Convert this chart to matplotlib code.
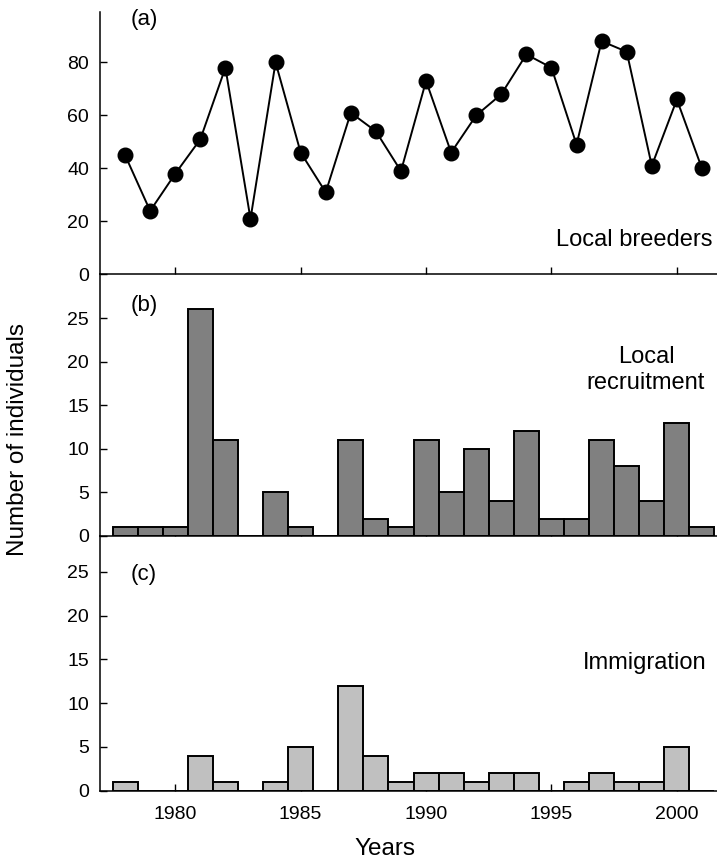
import matplotlib.pyplot as plt
import numpy as np

plt.rcParams["font.family"] = ["Liberation Sans", "DejaVu Sans"]

years = np.arange(1978, 2002)

# (a) local breeders
breeders = [45, 24, 38, 51, 78, 21, 80, 46, 31, 61, 54, 39,
            73, 46, 60, 68, 83, 78, 49, 88, 84, 41, 66, 40]

# (b) local recruitment
recruitment = [1, 1, 1, 26, 11, 0, 5, 1, 0, 11, 2, 1,
               11, 5, 10, 4, 12, 2, 2, 11, 8, 4, 13, 1]

# (c) immigration
immigration = [1, 0, 0, 4, 1, 0, 1, 5, 0, 12, 4, 1,
               2, 2, 1, 2, 2, 0, 1, 2, 1, 1, 5, 0]

xticks = [1980, 1985, 1990, 1995, 2000]

W, H = 717, 863
fig = plt.figure(figsize=(W / 100, H / 100), dpi=100)


def px_axes(top, bottom, left=100, right=717):
    return fig.add_axes([left / W, 1 - bottom / H, (right - left) / W, (bottom - top) / H])


ax_a = px_axes(12, 274.5)
ax_b = px_axes(274.5, 536)
ax_c = px_axes(536, 790.7)

for ax in (ax_a, ax_b, ax_c):
    ax.spines["top"].set_visible(False)
    ax.spines["right"].set_visible(False)
    ax.spines["left"].set_linewidth(1.1)
    ax.spines["bottom"].set_linewidth(1.1)
    ax.set_xlim(1977.0, 2001.6)
    ax.set_xticks(xticks)
    ax.tick_params(direction="in", length=5, width=1.0, labelsize=14, pad=8)
    ax.set_axisbelow(True)
    ax.patch.set_visible(False)

ax_a.tick_params(axis="x", labelbottom=False)
ax_b.tick_params(axis="x", labelbottom=False)
ax_c.tick_params(axis="x", pad=11)

# (a)
ax_a.plot(years, breeders, color="black", lw=1.4, marker="o", ms=10.5, zorder=3)
ax_a.set_ylim(0, 99)
ax_a.set_yticks([0, 20, 40, 60, 80])
ax_a.text(0.049, 0.97, "(a)", transform=ax_a.transAxes, fontsize=16, va="center")
ax_a.text(0.992, 0.131, "Local breeders", transform=ax_a.transAxes, fontsize=17,
          ha="right", va="center")

# (b)
ax_b.bar(years, recruitment, width=1.0, color="#808080", edgecolor="black", lw=1.4, zorder=2)
ax_b.set_ylim(0, 30)
ax_b.set_yticks([0, 5, 10, 15, 20, 25])
ax_b.text(0.049, 0.883, "(b)", transform=ax_b.transAxes, fontsize=16, va="center")
ax_b.text(0.885, 0.635, "Local\nrecruitment", transform=ax_b.transAxes, fontsize=17,
          ha="center", va="center", linespacing=1.2)

# (c)
ax_c.bar(years, immigration, width=1.0, color="#c0c0c0", edgecolor="black", lw=1.4, zorder=2)
ax_c.set_ylim(0, 29.1)
ax_c.set_yticks([0, 5, 10, 15, 20, 25])
ax_c.text(0.049, 0.847, "(c)", transform=ax_c.transAxes, fontsize=16, va="center")
ax_c.text(0.883, 0.50, "Immigration", transform=ax_c.transAxes, fontsize=17,
          ha="center", va="center")

fig.text(18 / W, 1 - 440 / H, "Number of individuals", rotation=90, fontsize=17.5,
         ha="center", va="center")
fig.text(385 / W, 1 - 849 / H, "Years", fontsize=17.5, ha="center", va="center")

fig.savefig("out.png", dpi=100)
